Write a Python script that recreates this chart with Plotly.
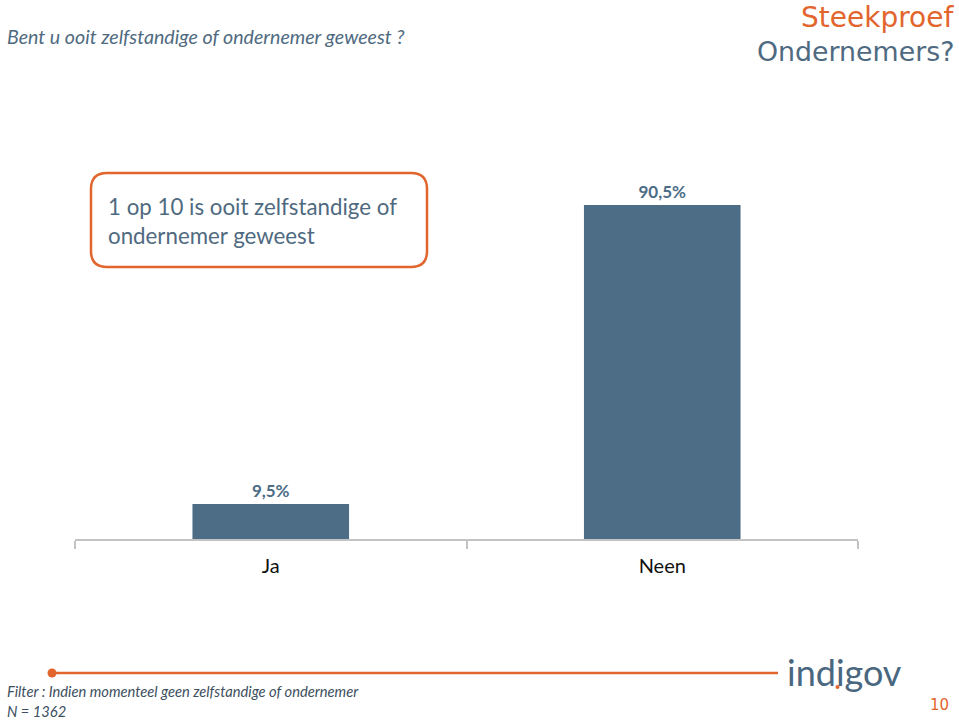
import plotly.graph_objects as go

categories = ["Ja", "Neen"]
values = [9.5, 90.5]
value_labels = ["9,5%", "90,5%"]

BAR = "#4d6d87"
ORANGE = "#e2652d"
TEXT = "#4f6a80"
W, H = 959, 721

fig = go.Figure()
fig.add_trace(go.Bar(
    x=categories, y=values, width=0.4,
    marker=dict(color=BAR, line=dict(width=0)),
    text=value_labels, textposition="outside",
    textfont=dict(family="Lato", size=17, color=BAR, weight="bold"),
    cliponaxis=False, hoverinfo="skip",
))

def py(y):
    return 1 - y / H

def px(x):
    return x / W

fig.update_layout(
    width=W, height=H,
    margin=dict(l=0, r=0, t=0, b=0),
    paper_bgcolor="white", plot_bgcolor="white",
    showlegend=False,
    xaxis=dict(domain=[px(75), px(858)], range=[-0.5, 1.5],
               showline=True, linecolor="#c3c3c3", linewidth=1.5,
               ticks="outside", tickson="boundaries", ticklen=8,
               tickcolor="#c3c3c3", tickwidth=1.5, ticklabelstandoff=8,
               tickfont=dict(family="Lato", size=20, color="#111111"),
               showgrid=False, zeroline=False, fixedrange=True),
    yaxis=dict(domain=[py(539), py(170)], range=[0, 100], visible=False,
               showgrid=False, zeroline=False, fixedrange=True),
    bargap=0.6,
)

annotations = [
    dict(text="<i>Bent u ooit zelfstandige of ondernemer geweest ?</i>",
         x=px(5), y=py(37), xanchor="left", yanchor="middle",
         font=dict(family="Lato", size=19.6, color=TEXT)),
    dict(text="Steekproef", x=px(956), y=py(18), xanchor="right", yanchor="middle",
         font=dict(family="DejaVu Sans", size=28, color=ORANGE)),
    dict(text="Ondernemers?", x=px(956), y=py(52), xanchor="right", yanchor="middle",
         font=dict(family="DejaVu Sans", size=26.8, color=TEXT)),
    dict(text="1 op 10 is ooit zelfstandige of<br>ondernemer geweest",
         x=px(106), y=py(221), xanchor="left", yanchor="middle", align="left",
         font=dict(family="Lato", size=22.3, color=TEXT)),
    dict(text="<i>Filter : Indien momenteel geen zelfstandige of ondernemer</i>",
         x=px(5), y=py(691), xanchor="left", yanchor="middle",
         font=dict(family="Lato", size=14.7, color="#3d4f60")),
    dict(text="<i>N = 1362</i>",
         x=px(5), y=py(711), xanchor="left", yanchor="middle",
         font=dict(family="Lato", size=14.7, color="#3d4f60")),
    dict(text="indigov", x=px(785), y=py(672), xanchor="left", yanchor="middle",
         font=dict(family="Lato", size=36, color="#4a6780")),
    dict(text="10", x=px(951), y=py(705), xanchor="right", yanchor="middle",
         font=dict(family="DejaVu Sans", size=15, color=ORANGE)),
]
for a in annotations:
    a.update(xref="paper", yref="paper", showarrow=False)
fig.update_layout(annotations=annotations)

def rounded_rect(x0, y0, x1, y1, r):
    def P(x, y):
        return f"{px(x):.5f},{py(y):.5f}"
    return (f"M {P(x0 + r, y0)} L {P(x1 - r, y0)} Q {P(x1, y0)} {P(x1, y0 + r)} "
            f"L {P(x1, y1 - r)} Q {P(x1, y1)} {P(x1 - r, y1)} "
            f"L {P(x0 + r, y1)} Q {P(x0, y1)} {P(x0, y1 - r)} "
            f"L {P(x0, y0 + r)} Q {P(x0, y0)} {P(x0 + r, y0)} Z")

shapes = [
    dict(type="path", path=rounded_rect(91, 173, 427, 267, 16),
         xref="paper", yref="paper", line=dict(color=ORANGE, width=2.5)),
    dict(type="line", x0=px(52), x1=px(778), y0=py(673), y1=py(673),
         xref="paper", yref="paper", line=dict(color=ORANGE, width=2.5)),
    dict(type="circle", x0=px(47.5), x1=px(56.5), y0=py(668.5), y1=py(677.5),
         xref="paper", yref="paper", fillcolor=ORANGE, line=dict(width=0)),
    dict(type="circle", x0=px(835.5), x1=px(839.5), y0=py(685), y1=py(689),
         xref="paper", yref="paper", fillcolor=ORANGE, line=dict(width=0)),
]
fig.update_layout(shapes=shapes)

fig.write_html(
    "out.html",
    config={"displayModeBar": False},
    post_script="document.body.style.margin='0';document.body.style.overflow='hidden';",
)
